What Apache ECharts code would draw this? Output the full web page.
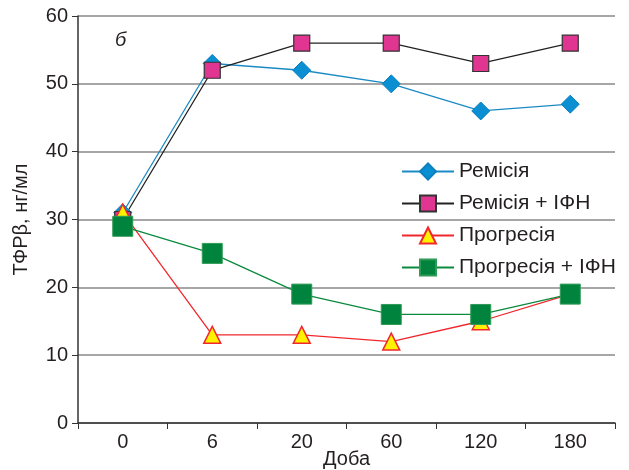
<!DOCTYPE html>
<html lang="uk">
<head>
    <meta charset="UTF-8" />
    <title>ТФРβ</title>
    <style>
        body { margin: 0; padding: 0; background: #fff; }
        .chart { width: 629px; height: 470px; }
    </style>
</head>
<body>
<div class="chart"></div>
<script src="https://cdn.jsdelivr.net/npm/echarts@6/dist/echarts.min.js"></script>
<script>
    // дані
    const days = ['0', '6', '20', '60', '120', '180'];
    const remission = [31, 53, 52, 50, 46, 47];
    const remissionIfn = [30, 52, 56, 56, 53, 56];
    const progression = [31, 13, 13, 12, 15, 19];
    const progressionIfn = [29, 25, 19, 16, 16, 19];

    const font = 'Liberation Sans, Arial, sans-serif';
    const ink = '#231f20';
    const chart = echarts.init(document.querySelector('.chart'));
    chart.setOption({
        animation: false,
        textStyle: { fontFamily: font },
        grid: { left: 78, right: 14, top: 16, bottom: 47, outerBoundsMode: 'none', containLabel: false },
        graphic: [{
            type: 'text', left: 115, top: 30,
            style: { text: 'б', font: 'italic 20px ' + font, fill: ink }
        }],
        legend: {
            orient: 'vertical',
            left: 396, top: 156,
            itemWidth: 52, itemHeight: 20, itemGap: 11,
            textStyle: { fontSize: 21, color: ink, fontFamily: font }
        },
        xAxis: {
            type: 'category',
            data: days,
            name: 'Доба',
            nameLocation: 'middle',
            nameGap: 26,
            nameMoveOverlap: false,
            nameTextStyle: { fontSize: 20, color: ink },
            axisLine: { lineStyle: { color: '#333', width: 1.5 } },
            axisTick: { show: true, length: 6, lineStyle: { color: '#333' } },
            axisLabel: { fontSize: 20, color: ink, margin: 9 }
        },
        yAxis: {
            type: 'value',
            min: 0, max: 60, interval: 10,
            name: 'ТФРβ, нг/мл',
            nameLocation: 'middle',
            nameGap: 47,
            nameMoveOverlap: false,
            nameTextStyle: { fontSize: 20, color: ink },
            axisLine: { show: true, lineStyle: { color: '#333', width: 1.5 } },
            axisTick: { show: true, length: 6, lineStyle: { color: '#333' } },
            axisLabel: { fontSize: 20, color: ink, margin: 10 },
            splitLine: { lineStyle: { color: '#888', width: 1.5 } }
        },
        series: [
            {
                name: 'Ремісія', type: 'line', data: remission,
                symbol: 'diamond', symbolSize: 18,
                lineStyle: { color: '#1a8ac4', width: 1.3 },
                itemStyle: { color: '#0a8fd2', borderColor: '#0a80c0', borderWidth: 1 }
            },
            {
                name: 'Ремісія + ІФН', type: 'line', data: remissionIfn,
                symbol: 'rect', symbolSize: 16,
                lineStyle: { color: '#222', width: 1.3 },
                itemStyle: { color: '#e03591', borderColor: '#333', borderWidth: 1.2 }
            },
            {
                name: 'Прогресія', type: 'line', data: progression,
                symbol: 'triangle', symbolSize: 17,
                lineStyle: { color: '#f0282d', width: 1.3 },
                itemStyle: { color: '#fff200', borderColor: '#f0282d', borderWidth: 1.5 }
            },
            {
                name: 'Прогресія + ІФН', type: 'line', data: progressionIfn,
                symbol: 'rect', symbolSize: 20,
                lineStyle: { color: '#0b8a3e', width: 1.3 },
                itemStyle: { color: '#00843d', borderColor: '#2f9a55', borderWidth: 1 }
            }
        ]
    });
</script>
</body>
</html>
